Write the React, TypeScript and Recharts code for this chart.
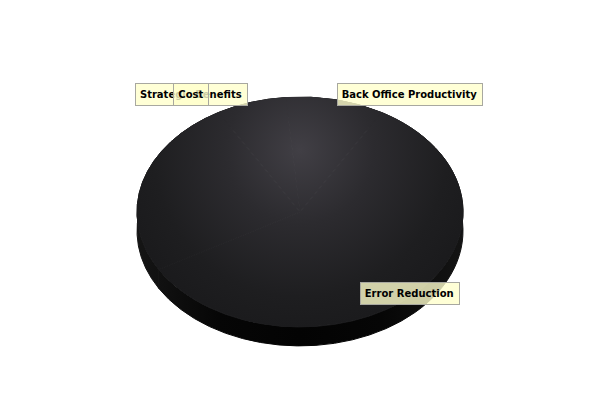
import React from 'react';
import { PieChart, Pie } from 'recharts';

const categories = ['Back Office Productivity', 'Error Reduction', 'Strategic Benefits', 'Cost'];
const values = [14, 84, 36, 10];

const data = categories.map((name, i) => ({ name, value: values[i] }));

const ELLIPSE = 0.705; // vertical squash of the 3D pie
const DEPTH = 19;
const FONT = 'bold 10px "DejaVu Sans"';

let ctx: CanvasRenderingContext2D | null = null;
function textWidth(s: string): number {
  if (!ctx) {
    const c = document.createElement('canvas');
    ctx = c.getContext('2d');
  }
  if (!ctx) return s.length * 6;
  ctx.font = FONT;
  return ctx.measureText(s).width;
}

const RAD = Math.PI / 180;
function pt(cx: number, cy: number, rx: number, ry: number, a: number, dy = 0) {
  return [cx + rx * Math.cos(a * RAD), cy - ry * Math.sin(a * RAD) + dy];
}

const TopShape = (props: any) => {
  const { cx, cy, outerRadius, startAngle, endAngle } = props;
  const rx = outerRadius;
  const ry = outerRadius * ELLIPSE;
  const [x1, y1] = pt(cx, cy, rx, ry, startAngle);
  const [x2, y2] = pt(cx, cy, rx, ry, endAngle);
  const large = Math.abs(startAngle - endAngle) > 180 ? 1 : 0;
  const sweep = startAngle > endAngle ? 1 : 0;
  const d = `M${cx},${cy} L${x1},${y1} A${rx},${ry} 0 ${large} ${sweep} ${x2},${y2} Z`;
  return <path d={d} fill="url(#pieTop)" stroke="url(#pieTop)" strokeWidth={1} />;
};

const SideShape = (props: any) => {
  const { cx, cy, outerRadius, startAngle, endAngle } = props;
  const rx = outerRadius;
  const ry = outerRadius * ELLIPSE;
  const [x1, y1] = pt(cx, cy, rx, ry, startAngle);
  const [x2, y2] = pt(cx, cy, rx, ry, endAngle);
  const [x3, y3] = pt(cx, cy, rx, ry, endAngle, DEPTH);
  const [x4, y4] = pt(cx, cy, rx, ry, startAngle, DEPTH);
  const large = Math.abs(startAngle - endAngle) > 180 ? 1 : 0;
  const sweep = startAngle > endAngle ? 1 : 0;
  const d = `M${x1},${y1} A${rx},${ry} 0 ${large} ${sweep} ${x2},${y2} L${x3},${y3} A${rx},${ry} 0 ${large} ${1 - sweep} ${x4},${y4} Z`;
  return <path d={d} fill="url(#pieSide)" stroke="url(#pieSide)" strokeWidth={1} />;
};

const renderLabel = (props: any) => {
  const { cx, cy, midAngle, outerRadius, index } = props;
  const name: string = (props.payload && props.payload.name) || props.name || categories[index];
  const rx = outerRadius;
  const ry = outerRadius * ELLIPSE;
  const c = Math.cos(midAngle * RAD);
  const s = Math.sin(midAngle * RAD);
  const x = cx + (c >= 0 ? 1 : -1) * rx * 0.67;
  const y = s > 0 ? cy - ry - 2.7 : cy - ry * s;
  const w = Math.round(textWidth(name) + 10);
  const h = 22;
  return (
    <g key={`lbl-${index}`}>
      <rect
        x={Math.round(x - w / 2) + 0.5}
        y={Math.round(y - h / 2) + 0.5}
        width={w}
        height={h}
        fill="#ffffcc"
        fillOpacity={0.8}
        stroke="#a8a8a0"
        strokeWidth={1}
      />
      <text
        x={x}
        y={y + 0.5}
        textAnchor="middle"
        dominantBaseline="central"
        fontFamily='"DejaVu Sans"'
        fontWeight="bold"
        fontSize={10}
        fill="#000"
      >
        {name}
      </text>
    </g>
  );
};

export default function App() {
  return (
    <div style={{ position: 'absolute', left: 0, top: 0, width: 600, height: 400, background: '#fff' }}>
      <PieChart width={600} height={400} margin={{ top: 0, right: 0, bottom: 0, left: 0 }}>
        <defs>
          <radialGradient id="pieTop" gradientUnits="userSpaceOnUse" cx={300} cy={150} r={210}>
            <stop offset="0" stopColor="#413f45" />
            <stop offset="0.35" stopColor="#2c2b2f" />
            <stop offset="0.7" stopColor="#1e1e20" />
            <stop offset="1" stopColor="#18181a" />
          </radialGradient>
          <linearGradient id="pieSide" gradientUnits="userSpaceOnUse" x1={137} y1={0} x2={463} y2={0}>
            <stop offset="0" stopColor="#151515" />
            <stop offset="0.25" stopColor="#060606" />
            <stop offset="0.5" stopColor="#030303" />
            <stop offset="0.75" stopColor="#060606" />
            <stop offset="1" stopColor="#141414" />
          </linearGradient>
        </defs>
        <Pie
          data={data}
          dataKey="value"
          nameKey="name"
          cx={300}
          cy={212}
          outerRadius={163}
          innerRadius={0}
          startAngle={95}
          endAngle={-265}
          stroke="none"
          isAnimationActive={false}
          shape={SideShape}
          inactiveShape={SideShape}
          activeShape={SideShape}
          label={false}
          labelLine={false}
        />
        <Pie
          data={data}
          dataKey="value"
          nameKey="name"
          cx={300}
          cy={212}
          outerRadius={163}
          innerRadius={0}
          startAngle={95}
          endAngle={-265}
          stroke="none"
          isAnimationActive={false}
          shape={TopShape}
          inactiveShape={TopShape}
          activeShape={TopShape}
          label={renderLabel}
          labelLine={false}
        />
      </PieChart>
    </div>
  );
}
